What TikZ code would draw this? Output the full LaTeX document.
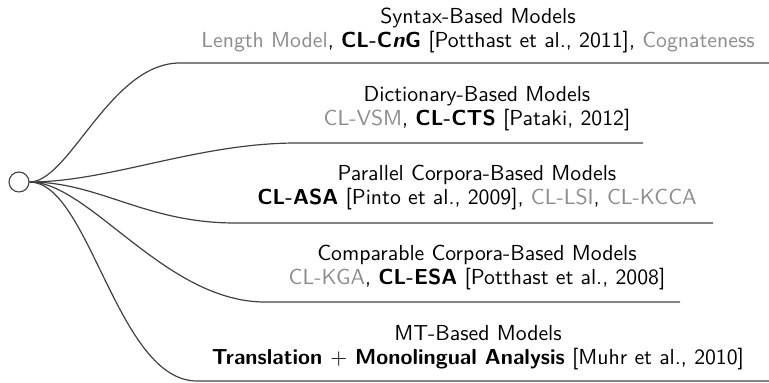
\documentclass[tikz,border=0pt]{standalone}
\usepackage{xcolor}
\usepackage{tikz}
\usetikzlibrary{positioning}
\newcommand{\other}[1]{\textcolor{black!45}{#1}}

\begin{document}
\begin{tikzpicture}[
  x=0.46pt, y=-0.46pt,
  root/.style   = {draw=black!75, circle, line width=0.5pt, minimum size=9.2pt,
                   inner sep=0pt},
  group/.style  = {align=center, font=\sffamily\fontsize{10}{11}\selectfont,
                   inner sep=0pt},
  branch/.style = {draw=black!75, line width=0.55pt},
]
  \useasboundingbox (0,0) rectangle (769,383);

  \node[root] (root) at (19,182) {};

  \node[group] (syn)  at (478,30)  {Syntax-Based Models\\
    \other{Length Model}, \textbf{CL-C\textit{n}G} [Potthast et al., 2011], \other{Cognateness}};
  \node[group] (dict) at (477,109) {Dictionary-Based Models\\
    \other{CL-VSM}, \textbf{CL-CTS} [Pataki, 2012]};
  \node[group] (par)  at (477,188) {Parallel Corpora-Based Models\\
    \textbf{CL-ASA} [Pinto et al., 2009], \other{CL-LSI}, \other{CL-KCCA}};
  \node[group] (comp) at (477,268) {Comparable Corpora-Based Models\\
    \other{CL-KGA}, \textbf{CL-ESA} [Potthast et al., 2008]};
  \node[group] (mt)   at (478,348) {MT-Based Models\\
    \textbf{Translation $+$ Monolingual Analysis} [Muhr et al., 2010]};

  % underline ends
  \coordinate (syn-l)  at (180,63);  \coordinate (syn-r)  at (769,63);
  \coordinate (dict-l) at (297,143); \coordinate (dict-r) at (643,143);
  \coordinate (par-l)  at (235,223); \coordinate (par-r)  at (713,223);
  \coordinate (comp-l) at (265,302); \coordinate (comp-r) at (680,302);
  \coordinate (mt-l)   at (197,381); \coordinate (mt-r)   at (769,381);

  \draw[branch] (root.east) .. controls +(40,0) and +(-70,0) .. (syn-l) -- (syn-r);
  \draw[branch] (root.east) .. controls +(80,0) and +(-100,0) .. (dict-l) -- (dict-r);
  \draw[branch] (root.east) .. controls +(70,0) and +(-90,0) .. (par-l) -- (par-r);
  \draw[branch] (root.east) .. controls +(60,0) and +(-100,0) .. (comp-l) -- (comp-r);
  \draw[branch] (root.east) .. controls +(60,0) and +(-80,0) .. (mt-l) -- (mt-r);
\end{tikzpicture}
\end{document}
